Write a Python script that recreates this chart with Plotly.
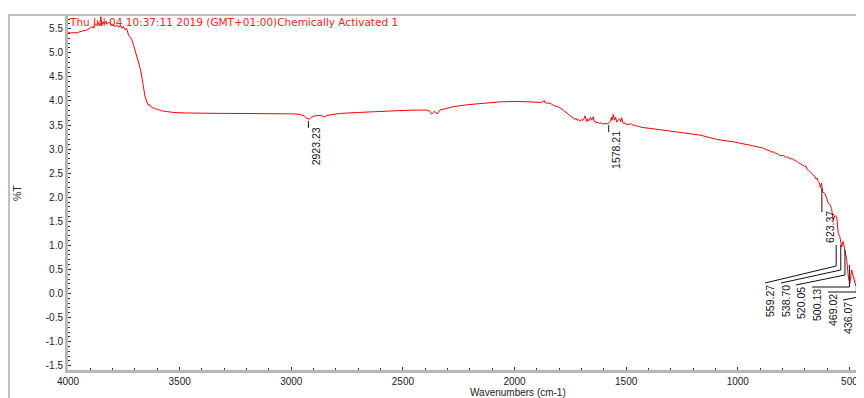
import numpy as np
import plotly.graph_objects as go

# ---- data ----
wavenumber = [4000, 3990, 3975, 3960, 3946, 3930, 3916, 3905, 3893, 3885, 3878, 3871, 3865, 3858,
              3853, 3849, 3843, 3836, 3830, 3826, 3818, 3811, 3804, 3797, 3790, 3782, 3774, 3766,
              3758, 3752, 3745, 3737, 3729, 3722, 3714, 3707, 3700, 3694, 3689, 3683, 3677, 3673,
              3670, 3666, 3662, 3658, 3655, 3650, 3644, 3640, 3635, 3630, 3625, 3620, 3614, 3608,
              3602, 3596, 3590, 3582, 3575, 3566, 3558, 3545, 3528, 3480, 3400, 3300, 3229, 3150,
              3050, 2991, 2960, 2940, 2931, 2920, 2910, 2893, 2870, 2855, 2850, 2840, 2781, 2700,
              2632, 2560, 2513, 2438, 2393, 2380, 2371, 2362, 2356, 2348, 2340, 2334, 2274, 2214,
              2140, 2065, 1990, 1916, 1900, 1880, 1871, 1868, 1862, 1850, 1840, 1826, 1815, 1810,
              1800, 1796, 1788, 1780, 1772, 1766, 1758, 1750, 1744, 1737, 1730, 1724, 1720, 1714,
              1707, 1700, 1695, 1688, 1684, 1680, 1677, 1672, 1669, 1664, 1660, 1655, 1650, 1647,
              1643, 1640, 1635, 1632, 1626, 1620, 1614, 1608, 1602, 1596, 1590, 1585, 1580, 1575,
              1570, 1566, 1563, 1558, 1555, 1552, 1547, 1542, 1537, 1530, 1525, 1520, 1515, 1510,
              1504, 1498, 1492, 1485, 1478, 1468, 1460, 1450, 1440, 1430, 1393, 1318, 1244, 1169,
              1094, 1020, 945, 920, 900, 886, 870, 860, 850, 841, 830, 820, 810, 796, 785, 776,
              766, 758, 751, 740, 729, 721, 712, 700, 695, 691, 685, 680, 672, 666, 662, 656, 650,
              645, 640, 635, 630, 625, 620, 610, 602, 595, 588, 580, 573, 565, 557, 550, 543, 535,
              528, 520, 512, 505, 498, 490, 483, 475, 468, 460, 453, 449, 445, 441, 435, 430, 425,
              420]
transmittance = [5.42, 5.41, 5.42, 5.41, 5.44, 5.45, 5.47, 5.50, 5.54, 5.52, 5.60, 5.57, 5.63, 5.58,
                 5.75, 5.57, 5.64, 5.60, 5.66, 5.59, 5.63, 5.62, 5.57, 5.59, 5.54, 5.58, 5.53, 5.56,
                 5.51, 5.55, 5.48, 5.50, 5.37, 5.33, 5.27, 5.17, 5.06, 4.98, 4.92, 4.82, 4.68, 4.60,
                 4.50, 4.38, 4.23, 4.15, 4.09, 4.02, 3.95, 3.91, 3.93, 3.88, 3.87, 3.85, 3.86, 3.83,
                 3.83, 3.81, 3.82, 3.79, 3.80, 3.78, 3.78, 3.77, 3.76, 3.75, 3.74, 3.74, 3.74, 3.74,
                 3.73, 3.73, 3.72, 3.68, 3.64, 3.62, 3.66, 3.69, 3.70, 3.68, 3.67, 3.70, 3.74, 3.76,
                 3.78, 3.79, 3.80, 3.81, 3.81, 3.79, 3.73, 3.77, 3.78, 3.73, 3.78, 3.81, 3.88, 3.92,
                 3.95, 3.98, 3.99, 3.98, 3.97, 3.97, 3.99, 4.01, 3.96, 3.95, 3.95, 3.91, 3.90, 3.88,
                 3.87, 3.85, 3.83, 3.80, 3.77, 3.74, 3.71, 3.68, 3.66, 3.64, 3.62, 3.64, 3.60, 3.61,
                 3.58, 3.62, 3.59, 3.64, 3.69, 3.62, 3.57, 3.63, 3.58, 3.61, 3.66, 3.60, 3.63, 3.67,
                 3.58, 3.56, 3.57, 3.54, 3.56, 3.53, 3.55, 3.52, 3.53, 3.52, 3.54, 3.52, 3.53, 3.55,
                 3.58, 3.66, 3.60, 3.72, 3.63, 3.60, 3.66, 3.56, 3.59, 3.63, 3.57, 3.65, 3.55, 3.53,
                 3.55, 3.50, 3.52, 3.51, 3.53, 3.49, 3.50, 3.47, 3.47, 3.45, 3.43, 3.38, 3.34, 3.29,
                 3.20, 3.15, 3.08, 3.06, 3.03, 3.02, 2.98, 2.97, 2.94, 2.94, 2.91, 2.90, 2.86, 2.87,
                 2.83, 2.84, 2.79, 2.81, 2.78, 2.76, 2.72, 2.70, 2.68, 2.64, 2.65, 2.59, 2.57, 2.55,
                 2.51, 2.48, 2.45, 2.44, 2.38, 2.40, 2.33, 2.30, 2.20, 2.29, 2.11, 2.08, 1.98, 1.87,
                 1.85, 1.77, 1.53, 1.62, 1.59, 1.25, 1.18, 0.97, 1.08, 0.90, 0.70, 0.35, 0.21, 0.49,
                 0.35, 0.21, 0.14, 0.42, 0.97, 1.01, 0.21, -0.07, 0.56, 0.30, 0.10, 0.00]

peaks_single = [2923.23, 1578.21, 623.37]
peaks_cluster = [559.27, 538.70, 520.05, 500.13, 469.02, 436.07, 416.79]

x_ticks = [4000, 3500, 3000, 2500, 2000, 1500, 1000, 500]
y_ticks = [-1.5, -1.0, -0.5, 0.0, 0.5, 1.0, 1.5, 2.0, 2.5, 3.0, 3.5, 4.0, 4.5, 5.0, 5.5]

title_text = "Thu Jul 04 10:37:11 2019 (GMT+01:00)Chemically Activated 1"

# ---- layout geometry (screen pixels; page body has an 8px margin) ----
OFF = 8
W, H = 864 - OFF, 398 - OFF
SL, SR, ST, SB = 68, 864, 16, 370          # plot area in screen pixels
L, R, T, B = SL - OFF, SR - OFF, ST - OFF, SB - OFF
X_RANGE = [4000, 434.7]
Y_RANGE = [-1.589, 5.764]


def xd(px):
    return X_RANGE[0] + (px - SL) / (SR - SL) * (X_RANGE[1] - X_RANGE[0])


def yd(py):
    return Y_RANGE[1] - (py - ST) / (SB - ST) * (Y_RANGE[1] - Y_RANGE[0])


def xp(v):
    return SL + (v - X_RANGE[0]) / (X_RANGE[1] - X_RANGE[0]) * (SR - SL)


def yp(v):
    return ST + (Y_RANGE[1] - v) / (Y_RANGE[1] - Y_RANGE[0]) * (SB - ST)


def xpaper(px):
    return (px - SL) / (SR - SL)


def ypaper(py):
    return (SB - py) / (SB - ST)


fig = go.Figure()

# title text behind the spectrum
fig.add_trace(go.Scatter(x=[xd(70)], y=[yd(23)], mode="text", text=[title_text],
                         textposition="middle right", cliponaxis=False, hoverinfo="skip",
                         textfont=dict(family="DejaVu Sans", size=10.5, color="#ff2020"),
                         showlegend=False))

fig.add_trace(go.Scatter(x=wavenumber, y=transmittance, mode="lines",
                         line=dict(color="#ff0000", width=1), showlegend=False))

shapes = []
annotations = []
label_font = dict(family="Liberation Sans, Arial", size=10.5, color="#111")
line_style = dict(color="#111", width=1)

# single peaks: short vertical line under the curve and label below
wn_rev = wavenumber[::-1]
tr_rev = transmittance[::-1]
for pk in peaks_single:
    px = xp(pk)
    cy = yp(np.interp(pk, wn_rev, tr_rev))
    top = cy + 2
    bot = cy + (26 if pk < 700 else 9)
    shapes.append(dict(type="line", xref="x", yref="y", x0=pk, x1=pk, y0=yd(top), y1=yd(bot),
                       line=line_style))
    annotations.append(dict(x=xd(px + 8), y=yd(bot - 3), xref="x", yref="y", text=f"{pk:.2f}",
                            textangle=-90, showarrow=False, xanchor="center", yanchor="top",
                            font=label_font))

# clustered peaks with leader lines
label_x = [770, 786, 801, 817, 833, 848, 862]
label_top = [283, 283, 285, 287, 292, 300, 307]
bend_y = [266, 270, 275, 287, 292, 296, 301]
vert_top = [245, 245, 250, 265, 277, 285, 290]
for i, pk in enumerate(peaks_cluster):
    shapes.append(dict(type="path", xref="x", yref="y",
                       path=f"M {xd(label_x[i] - 5)},{yd(label_top[i])} L {pk},{yd(bend_y[i])} "
                            f"L {pk},{yd(vert_top[i])}",
                       line=line_style))
    annotations.append(dict(x=xd(label_x[i]), y=yd(label_top[i]), xref="x", yref="y",
                            text=f"{pk:.2f}", textangle=-90, showarrow=False,
                            xanchor="center", yanchor="top", font=label_font))

# outer frame (screen x=8, y=15)
shapes.append(dict(type="rect", xref="paper", yref="paper",
                   x0=xpaper(9), x1=1.05, y0=-0.3, y1=ypaper(15),
                   line=dict(color="#c0c0c0", width=2), layer="below"))

# axis titles
annotations.append(dict(xref="paper", yref="paper", x=xpaper(518), y=ypaper(392),
                        text="Wavenumbers (cm-1)", showarrow=False, xanchor="center",
                        yanchor="middle", font=dict(family="Liberation Sans, Arial", size=10,
                                                    color="#222")))
annotations.append(dict(xref="paper", yref="paper", x=xpaper(17), y=ypaper(193),
                        text="%T", textangle=-90, showarrow=False, xanchor="center",
                        yanchor="middle", font=dict(family="Liberation Sans, Arial", size=10.5,
                                                    color="#222")))

tick_font = dict(family="Liberation Sans, Arial", size=10, color="#222")
fig.update_layout(
    width=W, height=H, autosize=False,
    margin=dict(l=L, r=W - R, t=T, b=H - B, pad=0),
    paper_bgcolor="white", plot_bgcolor="white",
    shapes=shapes, annotations=annotations,
    xaxis=dict(range=X_RANGE, tickvals=x_ticks, ticktext=[str(v) for v in x_ticks],
               showgrid=False, zeroline=False, showline=True, linecolor="#b8b8b8", linewidth=3,
               ticks="inside", ticklen=3, tickwidth=1, tickcolor="#333", tickfont=tick_font,
               minor=dict(dtick=100, ticks="inside", ticklen=2, tickcolor="#333", showgrid=False)),
    yaxis=dict(range=Y_RANGE, tickvals=y_ticks,
               ticktext=[f"{v:.1f}".replace("-0.0", "0.0") for v in y_ticks],
               showgrid=False, zeroline=False, showline=True, linecolor="#b8b8b8", linewidth=3,
               ticks="inside", ticklen=3, tickwidth=1, tickcolor="#333", tickfont=tick_font,
               minor=dict(dtick=0.1, tick0=0, ticks="inside", ticklen=2, tickcolor="#333",
                          showgrid=False)),
)

fig.write_html("out.html")
